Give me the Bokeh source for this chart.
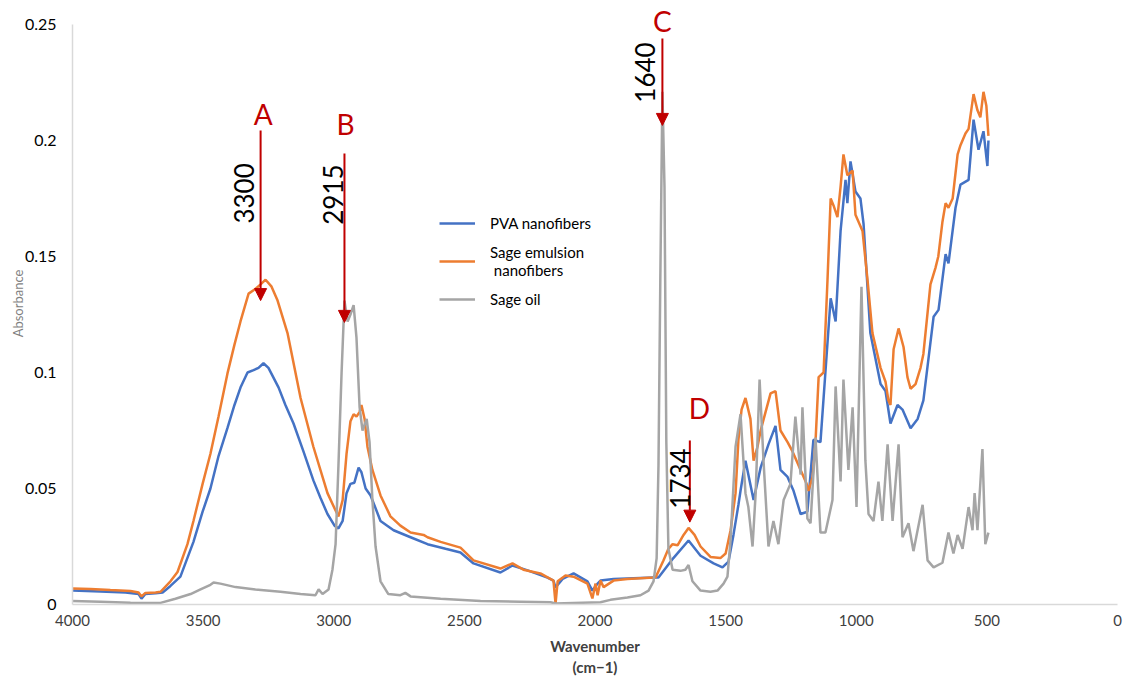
import math
from bokeh.plotting import figure
from bokeh.models import (Range1d, FixedTicker, Legend, LegendItem, Label, Arrow, NormalHead)
from bokeh.embed import file_html
from bokeh.resources import INLINE

# ---------------- data ----------------
x_ticks = [4000, 3500, 3000, 2500, 2000, 1500, 1000, 500, 0]
y_ticks = [0, 0.05, 0.1, 0.15, 0.2, 0.25]
y_tick_labels = ["0", "0.05", "0.1", "0.15", "0.2", "0.25"]

series_names = ["PVA nanofibers", "Sage emulsion\n nanofibers", "Sage oil"]

pva_wn = [4000, 3893, 3797, 3747, 3736, 3721, 3682, 3655, 3625, 3587, 3537, 3502, 3472, 3441, 3407, 3380,
          3357, 3330, 3307, 3288, 3269, 3250, 3211, 3185, 3154, 3116, 3078, 3051, 3024, 2997, 2982, 2966,
          2951, 2936, 2921, 2905, 2894, 2878, 2859, 2821, 2771, 2706, 2641, 2572, 2515, 2465, 2362, 2316,
          2258, 2182, 2159, 2151, 2124, 2082, 2029, 2010, 1990, 1979, 1929, 1776, 1757, 1700, 1642, 1596,
          1546, 1512, 1489, 1470, 1451, 1443, 1424, 1393, 1366, 1336, 1309, 1290, 1263, 1240, 1213, 1187,
          1164, 1137, 1098, 1079, 1060, 1041, 1034, 1022, 1003, 984, 972, 946, 907, 888, 869, 842, 823,
          792, 765, 743, 704, 685, 658, 647, 620, 601, 570, 551, 532, 513, 498, 494]
pva_abs = [0.0060, 0.0056, 0.0052, 0.0045, 0.0025, 0.0045, 0.0048, 0.0052, 0.0080, 0.0120, 0.0270, 0.0400,
           0.0500, 0.0640, 0.0760, 0.0860, 0.0935, 0.1000, 0.1010, 0.1020, 0.1040, 0.1020, 0.0935, 0.0860,
           0.0780, 0.0660, 0.0535, 0.0460, 0.0390, 0.0340, 0.0328, 0.0360, 0.0480, 0.0520, 0.0525, 0.0590,
           0.0570, 0.0500, 0.0470, 0.0360, 0.0320, 0.0290, 0.0260, 0.0240, 0.0224, 0.0177, 0.0138, 0.0168,
           0.0147, 0.0116, 0.0103, 0.0073, 0.0110, 0.0134, 0.0100, 0.0060, 0.0090, 0.0103, 0.0110, 0.0116,
           0.0116, 0.0200, 0.0276, 0.0210, 0.0177, 0.0160, 0.0185, 0.0300, 0.0430, 0.0490, 0.0620, 0.0450,
           0.0590, 0.0690, 0.0770, 0.0580, 0.0550, 0.0490, 0.0390, 0.0400, 0.0710, 0.0700, 0.1320, 0.1220,
           0.1610, 0.1830, 0.1730, 0.1910, 0.1780, 0.1750, 0.1640, 0.1170, 0.0950, 0.0920, 0.0780, 0.0860,
           0.0840, 0.0760, 0.0800, 0.0880, 0.1240, 0.1270, 0.1510, 0.1470, 0.1710, 0.1810, 0.1830, 0.2090,
           0.1960, 0.2040, 0.1890, 0.2000]

emul_wn = [4000, 3931, 3855, 3778, 3747, 3736, 3721, 3682, 3663, 3625, 3598, 3560, 3537, 3502, 3472, 3441,
           3407, 3380, 3357, 3326, 3300, 3280, 3261, 3238, 3215, 3177, 3127, 3078, 3024, 2993, 2982, 2966,
           2951, 2936, 2924, 2913, 2901, 2894, 2882, 2871, 2852, 2821, 2783, 2745, 2706, 2656, 2641, 2591,
           2515, 2465, 2362, 2316, 2274, 2209, 2159, 2151, 2143, 2113, 2082, 2029, 2010, 1998, 1990, 1979,
           1967, 1929, 1876, 1776, 1768, 1738, 1719, 1703, 1684, 1661, 1642, 1619, 1596, 1558, 1520, 1500,
           1481, 1462, 1451, 1439, 1424, 1405, 1393, 1378, 1366, 1347, 1328, 1309, 1290, 1263, 1244, 1213,
           1190, 1183, 1167, 1156, 1144, 1125, 1110, 1098, 1087, 1072, 1060, 1049, 1034, 1014, 1003, 976,
           957, 938, 907, 888, 877, 869, 857, 838, 819, 804, 792, 773, 754, 743, 716, 697, 686, 670, 658,
           647, 631, 612, 601, 582, 570, 551, 536, 525, 513, 502, 494]
emul_abs = [0.0069, 0.0067, 0.0062, 0.0058, 0.0052, 0.0035, 0.0050, 0.0052, 0.0055, 0.0100, 0.0140, 0.0260,
            0.0360, 0.0520, 0.0650, 0.0810, 0.0995, 0.1120, 0.1220, 0.1340, 0.1360, 0.1380, 0.1400, 0.1370,
            0.1310, 0.1170, 0.0890, 0.0680, 0.0480, 0.0405, 0.0380, 0.0450, 0.0650, 0.0790, 0.0820, 0.0810,
            0.0830, 0.0860, 0.0800, 0.0680, 0.0580, 0.0470, 0.0380, 0.0340, 0.0310, 0.0300, 0.0290, 0.0270,
            0.0245, 0.0190, 0.0155, 0.0177, 0.0150, 0.0134, 0.0103, 0.0004, 0.0100, 0.0125, 0.0120, 0.0090,
            0.0026, 0.0090, 0.0040, 0.0103, 0.0075, 0.0103, 0.0110, 0.0116, 0.0117, 0.0190, 0.0240, 0.0260,
            0.0255, 0.0300, 0.0330, 0.0300, 0.0250, 0.0205, 0.0200, 0.0220, 0.0320, 0.0480, 0.0710, 0.0840,
            0.0890, 0.0800, 0.0620, 0.0680, 0.0750, 0.0830, 0.0910, 0.0920, 0.0750, 0.0700, 0.0660, 0.0580,
            0.0520, 0.0490, 0.0550, 0.0700, 0.0980, 0.1000, 0.1400, 0.1750, 0.1720, 0.1670, 0.1800, 0.1940,
            0.1850, 0.1870, 0.1680, 0.1610, 0.1400, 0.1170, 0.1020, 0.0960, 0.0880, 0.0860, 0.1100, 0.1190,
            0.1110, 0.0980, 0.0930, 0.0950, 0.1020, 0.1080, 0.1380, 0.1450, 0.1500, 0.1650, 0.1730, 0.1710,
            0.1750, 0.1940, 0.1980, 0.2030, 0.2050, 0.2200, 0.2130, 0.2100, 0.2210, 0.2150, 0.2020]

oil_wn = [4000, 3893, 3778, 3701, 3663, 3606, 3548, 3510, 3472, 3460, 3434, 3376, 3300, 3204, 3127, 3070,
          3058, 3043, 3020, 3005, 2993, 2982, 2970, 2959, 2947, 2936, 2924, 2913, 2901, 2890, 2874, 2863,
          2852, 2840, 2821, 2791, 2745, 2726, 2706, 2591, 2438, 2285, 2170, 2151, 1979, 1941, 1876, 1826,
          1795, 1776, 1764, 1757, 1750, 1742, 1734, 1727, 1719, 1703, 1673, 1654, 1642, 1627, 1596, 1558,
          1531, 1508, 1493, 1481, 1462, 1443, 1424, 1413, 1397, 1385, 1370, 1355, 1336, 1317, 1298, 1278,
          1252, 1233, 1213, 1206, 1187, 1175, 1156, 1137, 1118, 1091, 1079, 1060, 1049, 1030, 1014, 999,
          980, 965, 953, 934, 915, 900, 880, 861, 838, 823, 800, 781, 746, 727, 704, 670, 647, 628, 612,
          593, 570, 555, 547, 536, 517, 506, 494]
oil_abs = [0.0015, 0.0012, 0.0008, 0.0006, 0.0007, 0.0025, 0.0045, 0.0065, 0.0085, 0.0095, 0.0090, 0.0075,
           0.0065, 0.0055, 0.0045, 0.0040, 0.0065, 0.0045, 0.0065, 0.0150, 0.0260, 0.0600, 0.1000, 0.1310,
           0.1220, 0.1250, 0.1290, 0.1150, 0.0850, 0.0750, 0.0800, 0.0700, 0.0450, 0.0250, 0.0100, 0.0045,
           0.0040, 0.0050, 0.0035, 0.0025, 0.0015, 0.0012, 0.0010, 0.0004, 0.0010, 0.0020, 0.0030, 0.0040,
           0.0060, 0.0100, 0.0200, 0.0600, 0.1400, 0.2210, 0.1800, 0.0700, 0.0240, 0.0150, 0.0145, 0.0150,
           0.0170, 0.0100, 0.0060, 0.0055, 0.0060, 0.0090, 0.0120, 0.0280, 0.0680, 0.0820, 0.0480, 0.0420,
           0.0250, 0.0480, 0.0970, 0.0620, 0.0250, 0.0360, 0.0260, 0.0450, 0.0520, 0.0810, 0.0560, 0.0850,
           0.0370, 0.0350, 0.0720, 0.0310, 0.0310, 0.0450, 0.0940, 0.0530, 0.0970, 0.0580, 0.0850, 0.0420,
           0.1370, 0.0620, 0.0390, 0.0360, 0.0530, 0.0360, 0.0690, 0.0360, 0.0690, 0.0290, 0.0350, 0.0230,
           0.0430, 0.0190, 0.0160, 0.0180, 0.0310, 0.0220, 0.0300, 0.0240, 0.0420, 0.0320, 0.0480, 0.0320,
           0.0670, 0.0260, 0.0310]

# peak annotations: letter, wavenumber label, arrow x (cm-1), arrow top, arrow tip
ann_letters = ["A", "B", "C", "D"]
ann_numbers = ["3300", "2915", "1640", "1734"]
ann_x = [3280, 2959, 1742, 1637]
ann_top = [0.2043, 0.1944, 0.2440, 0.0707]
ann_tip = [0.1310, 0.1216, 0.2065, 0.0355]
letter_pos = [(3270, 0.2116), (2955, 0.2073), (1742, 0.2517), (1600, 0.0849)]
number_pos = [(3345, 0.1772), (3002, 0.1767), (1807, 0.2293), (1675, 0.0543)]

colors = ["#4472C4", "#ED7D31", "#A5A5A5"]
red = "#C00000"
FONT = "Lato"

# ---------------- figure ----------------
# the frame reaches a little above 0.25 so the "C" label is not clipped;
# the y axis line itself stops at 0.25 (axis bounds)
p = figure(width=1124, height=682, output_backend="svg", toolbar_location=None,
           x_range=Range1d(4000, 0), y_range=Range1d(0, 0.259483),
           min_border_left=72, min_border_right=7, min_border_top=2, min_border_bottom=78)
p.outline_line_color = None
p.grid.visible = False
p.background_fill_color = "white"
p.border_fill_color = "white"

r1 = p.line(pva_wn, pva_abs, line_color=colors[0], line_width=2.5)
r2 = p.line(emul_wn, emul_abs, line_color=colors[1], line_width=2.5)
r3 = p.line(oil_wn, oil_abs, line_color=colors[2], line_width=2.5)

# axes
p.xaxis.ticker = FixedTicker(ticks=x_ticks)
p.yaxis.ticker = FixedTicker(ticks=y_ticks)
p.yaxis.bounds = (0, 0.25)
p.yaxis.major_label_overrides = {t: l for t, l in zip(y_ticks, y_tick_labels)}
for ax in (p.xaxis[0], p.yaxis[0]):
    ax.major_tick_out = 0
    ax.major_tick_in = 0
    ax.minor_tick_out = 0
    ax.minor_tick_in = 0
    ax.axis_line_color = "#D9D9D9"
    ax.axis_line_width = 1.5
    ax.major_label_text_font = FONT
    ax.major_label_text_color = "#000000"

p.xaxis.major_label_text_font_size = "15px"
p.xaxis.major_label_text_color = "#404040"
p.xaxis.major_label_standoff = 10
p.xaxis.axis_label = "Wavenumber\n(cm\u22121)"
p.xaxis.axis_label_text_font = FONT
p.xaxis.axis_label_text_font_size = "15px"
p.xaxis.axis_label_text_font_style = "bold"
p.xaxis.axis_label_text_color = "#404040"
p.xaxis.axis_label_standoff = 8

p.yaxis.major_label_text_font_size = "16px"
p.yaxis.major_label_standoff = 16
p.yaxis.axis_label = "Absorbance"
p.yaxis.axis_label_text_font = FONT
p.yaxis.axis_label_text_font_size = "13px"
p.yaxis.axis_label_text_font_style = "normal"
p.yaxis.axis_label_text_color = "#7F7F7F"
p.yaxis.axis_label_standoff = -4

# legend
legend = Legend(items=[LegendItem(label=series_names[0], renderers=[r1]),
                       LegendItem(label=series_names[1], renderers=[r2]),
                       LegendItem(label=series_names[2], renderers=[r3])],
                location=(367, 294), orientation="vertical",
                label_text_font=FONT, label_text_font_size="15px", label_text_color="#000000",
                label_text_line_height=1.7,
                glyph_width=36, glyph_height=22, label_standoff=15, spacing=9, padding=0,
                border_line_color=None, background_fill_alpha=0)
p.add_layout(legend, "center")

# annotations
for i in range(len(ann_letters)):
    p.add_layout(Arrow(end=NormalHead(size=12, fill_color=red, line_color=red),
                       x_start=ann_x[i], y_start=ann_top[i], x_end=ann_x[i], y_end=ann_tip[i],
                       line_color=red, line_width=2))
    lx, ly = letter_pos[i]
    p.add_layout(Label(x=lx, y=ly, text=ann_letters[i], text_color=red, text_font=FONT,
                       text_font_size="28px", text_align="center", text_baseline="middle"))
    nx, ny = number_pos[i]
    p.add_layout(Label(x=nx, y=ny, text=ann_numbers[i], text_color="#000000", text_font=FONT,
                       text_font_size="26px", text_align="center", text_baseline="middle",
                       angle=math.pi / 2))

open("out.html", "w").write(file_html(p, INLINE))
